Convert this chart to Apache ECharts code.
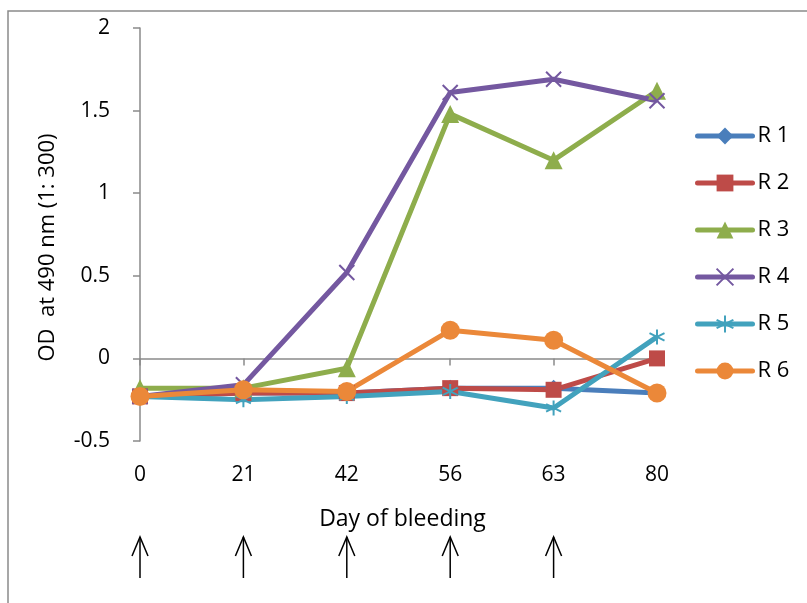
<!DOCTYPE html>
<html>
<head>
<meta charset="utf-8">
<script src="https://cdn.jsdelivr.net/npm/echarts@6/dist/echarts.min.js"></script>
<style>
html,body{margin:0;padding:0;background:#fff;}
#main{width:807px;height:603px;}
</style>
</head>
<body>
<div id="main"></div>
<script>
// ---- data ----
const days = ['0', '21', '42', '56', '63', '80'];
const seriesNames = ['R 1', 'R 2', 'R 3', 'R 4', 'R 5', 'R 6'];
const r1 = [-0.23, -0.21, -0.21, -0.18, -0.18, -0.21];
const r2 = [-0.23, -0.21, -0.21, -0.18, -0.19, 0.00];
const r3 = [-0.18, -0.18, -0.06, 1.48, 1.20, 1.62];
const r4 = [-0.23, -0.16, 0.52, 1.61, 1.69, 1.56];
const r5 = [-0.23, -0.25, -0.23, -0.20, -0.30, 0.13];
const r6 = [-0.23, -0.19, -0.20, 0.17, 0.11, -0.21];
const yMin = -0.5, yMax = 2, yStep = 0.5;
const arrowDays = ['0', '21', '42', '56', '63'];
const yName = 'OD  at 490 nm (1: 300)';
const xName = 'Day of bleeding';

// ---- styles ----
const FONT = 'Open Sans';
const colors = ['#4A7EBB', '#BE4B48', '#8EAD4C', '#7458A0', '#42A2BD', '#EB8839'];
const xPath = 'path://M0,0L10,10M10,0L0,10';
const starPath = 'path://M5,0L5,10M0.7,2.5L9.3,7.5M9.3,2.5L0.7,7.5';
const symbols = ['diamond', 'rect', 'triangle', xPath, starPath, 'circle'];
const symbolSizes = [17, 16, 18, 15, 15, 19];
const values = [r1, r2, r3, r4, r5, r6];

const chart = echarts.init(document.getElementById('main'));

const series = values.map((v, i) => {
  const open = i === 3 || i === 4;
  return {
    name: seriesNames[i],
    type: 'line',
    data: v,
    xAxisIndex: 0,
    symbol: symbols[i],
    symbolSize: symbolSizes[i],
    showAllSymbol: true,
    lineStyle: { color: colors[i], width: 5 },
    itemStyle: open
      ? { color: colors[i], borderColor: colors[i], borderWidth: 2 }
      : { color: colors[i], borderWidth: 0 },
    emphasis: { disabled: true },
    animation: false
  };
});

chart.setOption({
  animation: false,
  backgroundColor: '#fff',
  grid: { left: 140, top: 28, right: 150, bottom: 162, containLabel: false },
  xAxis: [
    {
      type: 'category',
      data: days,
      boundaryGap: false,
      position: 'bottom',
      axisLine: { show: false, onZero: false },
      axisTick: { show: false },
      axisLabel: { fontFamily: FONT, fontSize: 21, color: '#000', margin: 24 },
      name: xName,
      nameLocation: 'middle',
      nameGap: 67,
      nameTextStyle: { fontFamily: FONT, fontSize: 23, color: '#000', padding: [0, 0, 0, 8] },
      splitLine: { show: false }
    },
    {
      type: 'category',
      data: days,
      boundaryGap: false,
      position: 'bottom',
      axisLine: { show: true, onZero: true, lineStyle: { color: '#8a8a8a', width: 1.5 } },
      axisTick: { show: true, inside: false, length: 7, lineStyle: { color: '#8a8a8a', width: 1.5 } },
      axisLabel: { show: false },
      splitLine: { show: false }
    }
  ],
  yAxis: {
    type: 'value',
    min: yMin,
    max: yMax,
    interval: yStep,
    axisLine: { show: true, lineStyle: { color: '#8a8a8a', width: 1.5 } },
    axisTick: { show: true, inside: false, length: 7, lineStyle: { color: '#8a8a8a', width: 1.5 } },
    axisLabel: { fontFamily: FONT, fontSize: 21, color: '#000', margin: 30 },
    splitLine: { show: false },
    name: yName,
    nameLocation: 'middle',
    nameRotate: 90,
    nameGap: 81,
    nameMoveOverlap: false,
    nameTextStyle: { fontFamily: FONT, fontSize: 22, color: '#000', padding: [0, 26, 0, 0] }
  },
  legend: {
    orient: 'vertical',
    left: 690,
    top: 119,
    itemWidth: 55,
    itemHeight: 21,
    itemGap: 23,
    lineStyle: { width: 5, cap: 'round' },
    textStyle: { fontFamily: FONT, fontSize: 22, color: '#000', lineHeight: 24 },
    data: seriesNames,
    selectedMode: false
  },
  series: series
});

function drawAnnotations() {
  const arrows = arrowDays.map(d => {
    const x = chart.convertToPixel({ xAxisIndex: 0 }, d);
    return {
      type: 'group',
      children: [
        { type: 'line', shape: { x1: x, y1: 537, x2: x, y2: 578 }, style: { stroke: '#000', lineWidth: 1.5 } },
        { type: 'polyline', shape: { points: [[x - 8, 556], [x, 537], [x + 8, 556]] }, style: { stroke: '#000', fill: null, lineWidth: 1.5 } }
      ]
    };
  });
  chart.setOption({
    graphic: [
      { type: 'rect', shape: { x: 8, y: 11, width: 1200, height: 1200 }, style: { fill: null, stroke: '#8a8a8a', lineWidth: 1.5 }, silent: true, z: -1 }
    ].concat(arrows)
  });
}
drawAnnotations();
</script>
</body>
</html>
